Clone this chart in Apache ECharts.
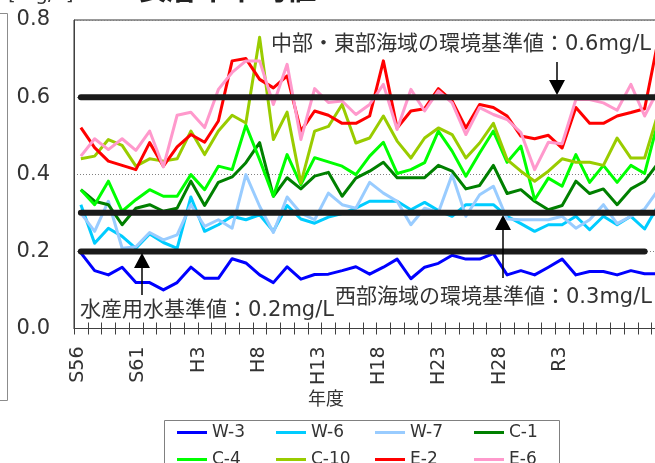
<!DOCTYPE html>
<html>
<head>
<meta charset="utf-8">
<script src="https://cdn.jsdelivr.net/npm/echarts@6/dist/echarts.min.js"></script>
<style>
  html, body { margin: 0; padding: 0; background: #fff; }
  #chart { width: 655px; height: 463px; }
</style>
</head>
<body>
<div id="chart"></div>
<script>
// 年度 1981 (S56) .. 2023 (R5)
const years = [];
for (let y = 1981; y <= 2023; y++) years.push(String(y));

const tickYears = [1981, 1986, 1991, 1996, 2001, 2006, 2011, 2016, 2021];
const tickLabels = ['S56', 'S61', 'H3', 'H8', 'H13', 'H18', 'H23', 'H28', 'R3'];

const stationNames = ['W-3', 'W-6', 'W-7', 'C-1', 'C-4', 'C-10', 'E-2', 'E-6'];
const stationColors = ['#0000ff', '#00ccff', '#99ccff', '#008000', '#00ff00', '#99cc00', '#ff0000', '#ff99cc'];

const w3 = [0.196, 0.150, 0.139, 0.159, 0.119, 0.119, 0.100, 0.119, 0.159, 0.130, 0.130, 0.181, 0.170, 0.139, 0.119, 0.160, 0.128, 0.140, 0.141, 0.150, 0.160, 0.141, 0.159, 0.180, 0.129, 0.159, 0.169, 0.190, 0.180, 0.180, 0.194, 0.139, 0.150, 0.139, 0.159, 0.180, 0.139, 0.148, 0.148, 0.139, 0.150, 0.142, 0.142];
const w6 = [0.321, 0.221, 0.260, 0.239, 0.208, 0.245, 0.223, 0.208, 0.341, 0.252, 0.269, 0.291, 0.282, 0.295, 0.252, 0.319, 0.284, 0.273, 0.289, 0.298, 0.312, 0.330, 0.330, 0.330, 0.308, 0.327, 0.306, 0.291, 0.321, 0.321, 0.321, 0.291, 0.272, 0.252, 0.269, 0.269, 0.291, 0.256, 0.291, 0.269, 0.291, 0.258, 0.320];
const w7 = [0.299, 0.252, 0.330, 0.208, 0.212, 0.249, 0.230, 0.243, 0.321, 0.265, 0.282, 0.260, 0.399, 0.317, 0.249, 0.341, 0.299, 0.282, 0.351, 0.321, 0.312, 0.379, 0.351, 0.330, 0.269, 0.312, 0.301, 0.399, 0.291, 0.347, 0.369, 0.284, 0.282, 0.282, 0.282, 0.291, 0.260, 0.282, 0.321, 0.272, 0.291, 0.310, 0.360];
const c1 = [0.360, 0.330, 0.321, 0.269, 0.312, 0.321, 0.304, 0.312, 0.382, 0.319, 0.379, 0.393, 0.430, 0.482, 0.343, 0.391, 0.362, 0.395, 0.405, 0.343, 0.390, 0.408, 0.431, 0.391, 0.391, 0.391, 0.423, 0.408, 0.362, 0.371, 0.423, 0.350, 0.360, 0.330, 0.308, 0.319, 0.382, 0.350, 0.362, 0.321, 0.362, 0.382, 0.430];
const c4 = [0.360, 0.321, 0.382, 0.304, 0.334, 0.360, 0.343, 0.343, 0.399, 0.360, 0.421, 0.412, 0.527, 0.438, 0.343, 0.451, 0.373, 0.443, 0.432, 0.421, 0.399, 0.447, 0.483, 0.402, 0.412, 0.430, 0.512, 0.460, 0.395, 0.455, 0.512, 0.431, 0.473, 0.334, 0.390, 0.369, 0.451, 0.379, 0.423, 0.379, 0.423, 0.402, 0.540];
const c10 = [0.440, 0.447, 0.490, 0.475, 0.421, 0.440, 0.434, 0.440, 0.512, 0.451, 0.512, 0.553, 0.533, 0.755, 0.490, 0.561, 0.377, 0.512, 0.524, 0.581, 0.481, 0.494, 0.551, 0.486, 0.442, 0.494, 0.520, 0.503, 0.442, 0.481, 0.532, 0.438, 0.408, 0.382, 0.408, 0.440, 0.431, 0.431, 0.423, 0.494, 0.442, 0.442, 0.560];
const e2 = [0.521, 0.469, 0.434, 0.423, 0.412, 0.482, 0.421, 0.471, 0.503, 0.483, 0.538, 0.694, 0.700, 0.646, 0.624, 0.655, 0.512, 0.564, 0.553, 0.532, 0.532, 0.551, 0.694, 0.520, 0.564, 0.570, 0.622, 0.590, 0.520, 0.581, 0.573, 0.551, 0.499, 0.492, 0.501, 0.468, 0.573, 0.532, 0.532, 0.551, 0.560, 0.570, 0.750];
const e6 = [0.447, 0.492, 0.464, 0.492, 0.462, 0.512, 0.419, 0.553, 0.561, 0.521, 0.620, 0.664, 0.694, 0.694, 0.581, 0.685, 0.490, 0.622, 0.586, 0.590, 0.555, 0.581, 0.633, 0.516, 0.620, 0.564, 0.616, 0.585, 0.503, 0.573, 0.555, 0.542, 0.508, 0.412, 0.483, 0.479, 0.594, 0.594, 0.585, 0.566, 0.633, 0.551, 0.620];
const stationData = [w3, w6, w7, c1, c4, c10, e2, e6];

// 基準値 (0.2 ends one year before the others)
const stdEast = years.map(() => 0.6);
const stdWest = years.map(() => 0.3);
const stdFish = years.map((y, i) => (i < years.length - 1 ? 0.2 : null));

const FONT = "'DejaVu Sans', 'Noto Sans CJK JP', sans-serif";
const TXT = '#333333';

const chart = echarts.init(document.getElementById('chart'), null, { renderer: 'canvas' });

const series = stationNames.map((name, i) => ({
    name: name,
    type: 'line',
    data: stationData[i],
    symbol: 'none',
    lineStyle: { color: stationColors[i], width: 3, join: 'round' },
    itemStyle: { color: stationColors[i] },
    z: 2
}));
[stdEast, stdWest, stdFish].forEach((d, i) => {
    series.push({
        name: 'std' + i,
        type: 'line',
        data: d,
        symbol: 'none',
        silent: true,
        lineStyle: { color: '#1a1a1a', width: 6, cap: 'round' },
        z: 3
    });
});

// x of 1981 label sits at 78.3px, one year = 12.04px on the label axis
const labMin = 1980.643;
const labMax = 2029.749;

function arrow(x, yTip, yEnd, up) {
    const h = 15, w = 8;
    const yBase = up ? yTip + h : yTip - h;
    return [
        { type: 'line', shape: { x1: x, y1: yBase, x2: x, y2: yEnd }, style: { stroke: '#000', lineWidth: 1.5 }, z: 100 },
        { type: 'polygon', shape: { points: [[x, yTip], [x - w, yBase], [x + w, yBase]] }, style: { fill: '#000' }, z: 100 }
    ];
}

chart.setOption({
    animation: false,
    grid: {
        left: 74, top: 20, width: 591.25, height: 308.5,
        outerBoundsMode: 'none', containLabel: false,
        show: true, borderColor: '#333', borderWidth: 1, backgroundColor: 'transparent'
    },
    legend: {
        left: 164, top: 420, width: 400,
        padding: [4, 0, 0, 13],
        icon: 'rect', itemWidth: 30, itemHeight: 3, itemGap: 10,
        data: stationNames,
        formatter: '{a|{name}}',
        textStyle: {
            color: TXT, fontFamily: FONT, fontSize: 17,
            rich: { a: { width: 54, fontSize: 17, fontFamily: FONT, color: TXT, lineHeight: 15 } }
        }
    },
    xAxis: [
        {
            type: 'category', data: years, boundaryGap: true,
            axisLine: { lineStyle: { color: '#404040', width: 1 } },
            axisTick: { show: true, interval: 0, length: 6, lineStyle: { color: '#404040' } },
            axisLabel: { show: false }
        },
        {
            type: 'value', min: labMin, max: labMax, position: 'bottom',
            axisLine: { show: false }, axisTick: { show: false }, splitLine: { show: false },
            axisLabel: {
                customValues: tickYears,
                rotate: 90, margin: 18, color: TXT, fontFamily: FONT, fontSize: 19,
                formatter: v => tickLabels[tickYears.indexOf(Math.round(v))] || ''
            }
        },
        {
            type: 'category', data: years, boundaryGap: true, position: 'bottom',
            axisLine: { show: false },
            axisTick: { show: true, inside: true, interval: 0, length: 6, lineStyle: { color: '#404040' } },
            axisLabel: { show: false }
        }
    ],
    yAxis: {
        type: 'value', min: 0, max: 0.8, interval: 0.2,
        axisLine: { show: true, lineStyle: { color: '#404040' } },
        axisTick: { show: false },
        axisLabel: { color: TXT, fontFamily: FONT, fontSize: 21, margin: 24, formatter: v => v.toFixed(1) },
        splitLine: { lineStyle: { color: '#808080', type: [1, 2], width: 1 } }
    },
    series: series,
    graphic: [
        // neighbouring panel frame on the left edge
        { type: 'polyline', shape: { points: [[0, 13.5], [7.5, 13.5], [7.5, 400.5], [0, 400.5]] }, style: { stroke: '#8c8c8c', lineWidth: 1, fill: null } },
        // cut-off title
        { type: 'text', style: { text: '[mg/L]', x: 8, y: -5, font: '20px ' + FONT, fill: TXT, textVerticalAlign: 'middle' } },
        { type: 'text', style: { text: 'T-N表層年平均値', x: 83, y: -9, font: 'bold 30px ' + FONT, fill: '#222', textVerticalAlign: 'middle' } },
        // axis name
        { type: 'text', style: { text: '年度', x: 326, y: 400, font: '18px ' + FONT, fill: TXT, textAlign: 'center', textVerticalAlign: 'middle' } },
        // legend frame
        { type: 'rect', shape: { x: 164.5, y: 420.5, width: 395, height: 60 }, style: { stroke: '#808080', lineWidth: 1, fill: null } },
        // annotations
        { type: 'text', z: 100, style: { text: '中部・東部海域の環境基準値：0.6mg/L', x: 271, y: 45, font: '21px ' + FONT, fill: TXT, textVerticalAlign: 'middle' } },
        { type: 'text', z: 100, style: { text: '水産用水基準値：0.2mg/L', x: 80, y: 311, font: '21px ' + FONT, fill: TXT, textVerticalAlign: 'middle' } },
        { type: 'text', z: 100, style: { text: '西部海域の環境基準値：0.3mg/L', x: 335, y: 298, font: '21px ' + FONT, fill: TXT, textVerticalAlign: 'middle' } },
        ...arrow(557, 95, 62, false),
        ...arrow(142, 253, 295, true),
        ...arrow(503, 215, 278, true)
    ]
});
</script>
</body>
</html>
